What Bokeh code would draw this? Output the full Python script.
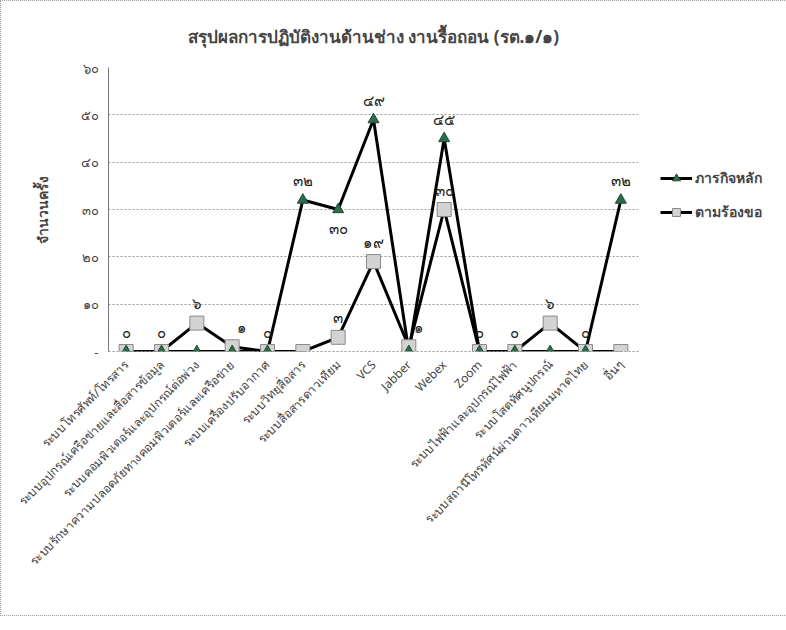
import math
from bokeh.plotting import figure
from bokeh.models import FactorRange, Legend, LegendItem, FixedTicker, ColumnDataSource
from bokeh.core.properties import value
from bokeh.embed import file_html
from bokeh.resources import INLINE

categories = [
    "ระบบโทรศัพท์/โทรสาร",
    "ระบบอุปกรณ์เครือข่ายและสื่อสารข้อมูล",
    "ระบบคอมพิวเตอร์และอุปกรณ์ต่อพ่วง",
    "ระบบรักษาความปลอดภัยทางคอมพิวเตอร์และเครือข่าย",
    "ระบบเครื่องปรับอากาศ",
    "ระบบวิทยุสื่อสาร",
    "ระบบสื่อสารดาวเทียม",
    "VCS",
    "Jabber",
    "Webex",
    "Zoom",
    "ระบบไฟฟ้าและอุปกรณ์ไฟฟ้า",
    "ระบบโสตทัศนูปกรณ์",
    "ระบบสถานีโทรทัศน์ผ่านดาวเทียมมหาดไทย",
    "อื่นๆ",
]
main_values = [0, 0, 0, 0, 0, 32, 30, 49, 0, 45, 0, 0, 0, 0, 32]
request_values = [0, 0, 6, 1, 0, 0, 3, 19, 1, 30, 0, 0, 6, 0, 0]
main_labels = ["๐", "๐", "๐", "๐", "๐", "๓๒", "๓๐", "๔๙", "๐", "๔๕", "๐", "๐", "๐", "๐", "๓๒"]
request_labels = ["๐", "๐", "๖", "๑", "๐", "๐", "๓", "๑๙", "๑", "๓๐", "๐", "๐", "๖", "๐", "๑"]
y_ticks = [0, 10, 20, 30, 40, 50, 60]
y_tick_labels = ["-", "๑๐", "๒๐", "๓๐", "๔๐", "๕๐", "๖๐"]
series_names = ["ภารกิจหลัก", "ตามร้องขอ"]
title_text = "สรุปผลการปฏิบัติงานด้านช่าง งานรื้อถอน (รต.๑/๑)"
y_title = "จำนวนครั้ง"

FONT = "Noto Sans"

p = figure(
    frame_width=530, frame_height=284,
    x_range=FactorRange(*categories),
    y_range=(0, 60),
    output_backend="svg", toolbar_location=None,
    min_border_left=107, min_border_right=10, min_border_top=66, min_border_bottom=264,
)
p.styles = {"border": "1px dotted #9a9a9a"}
p.outline_line_color = None
p.background_fill_color = "white"

p.title.text = title_text
p.title.align = "center"
p.title.text_font = FONT
p.title.text_font_size = "17px"
p.title.text_font_style = "bold"
p.title.standoff = 40

# axes
p.yaxis.ticker = FixedTicker(ticks=y_ticks)
p.yaxis.major_label_overrides = {t: l for t, l in zip(y_ticks, y_tick_labels)}
p.yaxis.axis_label = y_title
p.yaxis.axis_label_text_font = FONT
p.yaxis.axis_label_text_font_style = "bold"
p.yaxis.axis_label_text_font_size = "14px"
p.yaxis.axis_label_standoff = 26
p.yaxis.major_label_text_font = FONT
p.yaxis.major_label_text_font_size = "13px"
p.yaxis.major_label_standoff = 4
p.yaxis.major_tick_line_color = None
p.yaxis.minor_tick_line_color = None
p.yaxis.axis_line_color = "#777777"

p.xaxis.major_label_orientation = math.pi / 4
p.xaxis.major_label_text_font = FONT
p.xaxis.major_label_text_font_size = "12px"
p.xaxis.major_tick_line_color = None
p.xaxis.axis_line_color = "#999999"
p.xaxis.axis_line_dash = "2 2"

p.xgrid.grid_line_color = None
p.ygrid.grid_line_color = "#999999"
p.ygrid.grid_line_dash = "2 2"

src = ColumnDataSource(dict(x=categories, main=main_values, req=request_values,
                            ml=main_labels, rl=request_labels))

l1 = p.line("x", "main", source=src, line_color="black", line_width=3)
l2 = p.line("x", "req", source=src, line_color="black", line_width=3)
m2 = p.scatter("x", "req", source=src, marker="square", size=14,
               fill_color="#d3d3d3", line_color="#8a8a8a", line_width=1)
m1 = p.scatter("x", "main", source=src, marker="triangle", size=11,
               fill_color="#2e6b4a", line_color="#1f4a33", line_width=1)

# data labels
main_above = [i in (5, 7, 9, 14) for i in range(len(categories))]
req_above = [i not in (5, 14) for i in range(len(categories))]
req_shift = [i in (3, 8) for i in range(len(categories))]

ma = dict(x=[], y=[], t=[]); mb = dict(x=[], y=[], t=[])
ra = dict(x=[], y=[], t=[]); rb = dict(x=[], y=[], t=[]); rs = dict(x=[], y=[], t=[])
for i, c in enumerate(categories):
    d = ma if main_above[i] else mb
    d["x"].append(c); d["y"].append(main_values[i]); d["t"].append(main_labels[i])
    d = rs if req_shift[i] else (ra if req_above[i] else rb)
    d["x"].append(c); d["y"].append(request_values[i]); d["t"].append(request_labels[i])

for d, xo, off, base in ((ma, 0, -10, "bottom"), (ra, 0, -10, "bottom"), (rs, 10, -10, "bottom"),
                         (mb, 0, 8, "top"), (rb, 0, 8, "top")):
    p.text(x="x", y="y", text="t", source=ColumnDataSource(d), x_offset=xo, y_offset=off,
           text_align="center", text_baseline=base, text_font=value(FONT),
           text_font_size="15px", text_color="#222222")

legend = Legend(items=[
    LegendItem(label=series_names[0], renderers=[l1, m1]),
    LegendItem(label=series_names[1], renderers=[l2, m2]),
], location=(22, 128))
legend.label_text_font = FONT
legend.label_text_font_style = "bold"
legend.label_text_font_size = "14px"
legend.border_line_color = None
legend.background_fill_alpha = 0
legend.glyph_width = 32
legend.spacing = 12
legend.padding = 0
legend.margin = 0
legend.label_standoff = 3
p.add_layout(legend, "right")

open("out.html", "w").write(file_html(p, INLINE))
